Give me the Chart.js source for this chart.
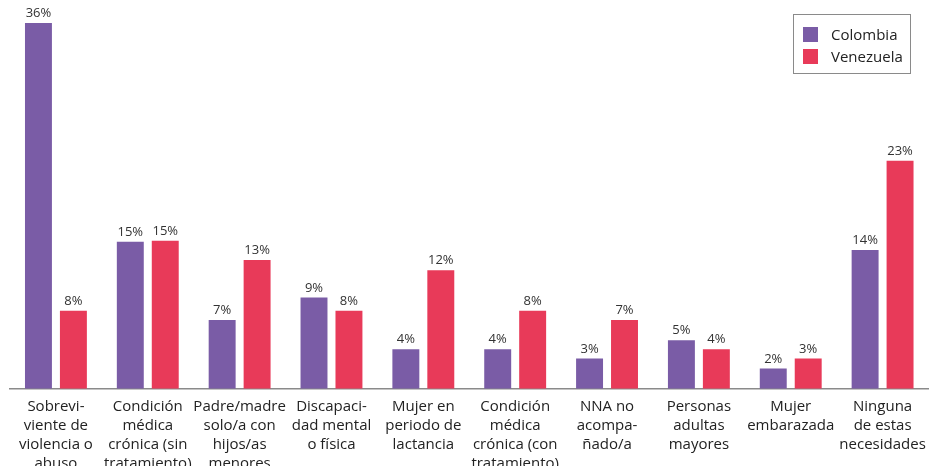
<!DOCTYPE html>
<html lang="es">
<head>
<meta charset="utf-8">
<script src="https://cdn.jsdelivr.net/npm/chart.js@4/dist/chart.umd.min.js"></script>
<style>
  html, body { margin: 0; padding: 0; background: #fff; overflow: hidden; }
  #wrap { position: relative; width: 934px; height: 481px; }
  #legend {
    position: absolute; left: 793px; top: 14px; width: 118px; height: 60px;
    border: 1.5px solid #8a8a8a; box-sizing: border-box;
    font-family: "Open Sans", sans-serif; font-size: 15px; color: #222;
  }
  .item { position: absolute; left: 9px; display: flex; align-items: center; }
  .sw { width: 15px; height: 15px; margin-right: 13px; }
</style>
</head>
<body>
<div id="wrap">
  <canvas id="chart"></canvas>
  <div id="legend"></div>
</div>
<script>
const categories = [
  ["Sobrevi-", "viente de", "violencia o", "abuso"],
  ["Condición", "médica", "crónica (sin", "tratamiento)"],
  ["Padre/madre", "solo/a con", "hijos/as", "menores"],
  ["Discapaci-", "dad mental", "o física"],
  ["Mujer en", "periodo de", "lactancia"],
  ["Condición", "médica", "crónica (con", "tratamiento)"],
  ["NNA no", "acompa-", "ñado/a"],
  ["Personas", "adultas", "mayores"],
  ["Mujer", "embarazada"],
  ["Ninguna", "de estas", "necesidades"],
];
const seriesNames = ["Colombia", "Venezuela"];
const colombia = [36.1, 14.5, 6.8, 9.0, 3.9, 3.9, 3.0, 4.8, 2.0, 13.7];
const venezuela = [7.7, 14.6, 12.7, 7.7, 11.7, 7.7, 6.8, 3.9, 3.0, 22.5];
const colombiaLabels = ["36%", "15%", "7%", "9%", "4%", "4%", "3%", "5%", "2%", "14%"];
const venezuelaLabels = ["8%", "15%", "13%", "8%", "12%", "8%", "7%", "4%", "3%", "23%"];
const colors = ["#7a5ca6", "#e83a59"];

// percentage labels above each bar
const barLabels = {
  id: "barLabels",
  afterDatasetsDraw(chart) {
    const { ctx } = chart;
    ctx.save();
    ctx.font = "13px 'Open Sans', sans-serif";
    ctx.fillStyle = "#333";
    ctx.textAlign = "center";
    ctx.textBaseline = "bottom";
    chart.data.datasets.forEach((ds, i) => {
      chart.getDatasetMeta(i).data.forEach((bar, j) => {
        ctx.fillText(ds.labelsText[j], bar.x, bar.y - 3);
      });
    });
    ctx.restore();
  },
};

new Chart(document.getElementById("chart"), {
  type: "bar",
  data: {
    labels: categories,
    datasets: [
      { label: seriesNames[0], data: colombia, labelsText: colombiaLabels, backgroundColor: colors[0] },
      { label: seriesNames[1], data: venezuela, labelsText: venezuelaLabels, backgroundColor: colors[1] },
    ],
  },
  options: {
    responsive: true,
    maintainAspectRatio: false,
    animation: false,
    layout: { padding: { left: 10, right: 4, top: 0, bottom: 0 } },
    datasets: { bar: { categoryPercentage: 0.761, barPercentage: 0.771 } },
    plugins: { legend: { display: false }, tooltip: { enabled: false } },
    scales: {
      x: {
        grid: { display: false, drawTicks: false },
        border: { display: true, color: "#8a8a8a", width: 1.5 },
        ticks: {
          color: "#222",
          padding: 8,
          maxRotation: 0,
          autoSkip: false,
          font: { family: "'Open Sans', sans-serif", size: 15, lineHeight: 1.27 },
        },
      },
      y: { display: false, min: 0, max: 38.37 },
    },
  },
  plugins: [barLabels],
});

const legend = document.getElementById("legend");
seriesNames.forEach((name, i) => {
  const item = document.createElement("div");
  item.className = "item";
  item.style.top = 9 + i * 22 + "px";
  item.innerHTML = `<span class="sw" style="background:${colors[i]}"></span>${name}`;
  legend.appendChild(item);
});
</script>
</body>
</html>
